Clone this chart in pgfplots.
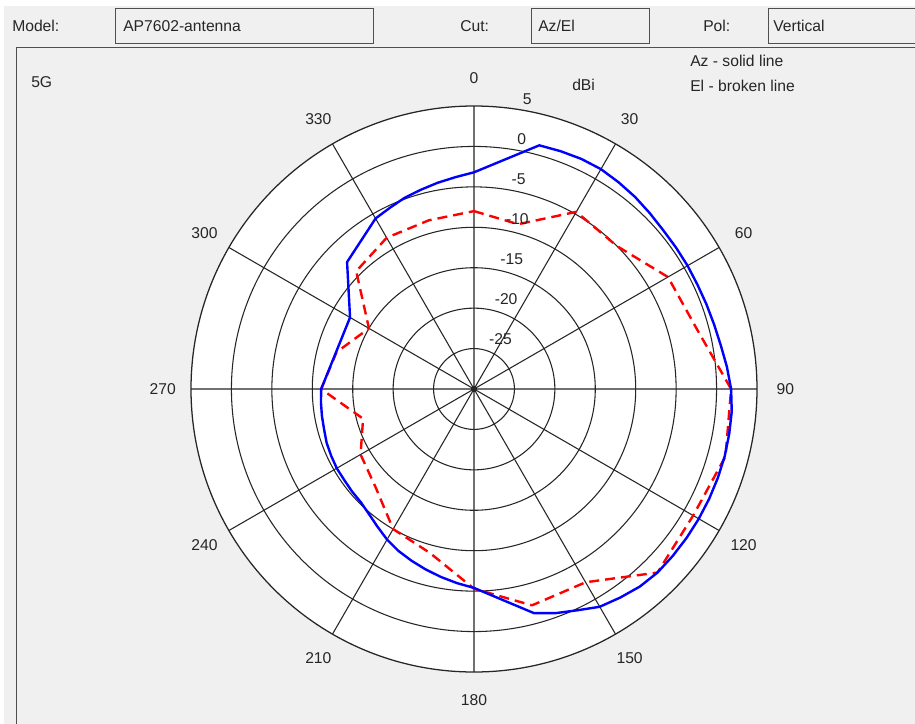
\documentclass[border=0pt]{standalone}
\usepackage{pgfplots}
\usepackage{pgfplotstable}
\pgfplotsset{compat=1.18}
\usepgfplotslibrary{polar}
\usepackage{fontspec}
\setmainfont{Liberation Sans}
\definecolor{bgc}{HTML}{F0F0F0}
\definecolor{boxc}{HTML}{505050}
\definecolor{txt}{HTML}{262626}
\definecolor{gridc}{HTML}{262626}

% compass angle (deg, clockwise from top), gain (dBi)
\pgfplotstableread{
ang db
0   -3.2
15  1.2
20  1.3
25  1.4
30  1.4
35  1.2
40  1.0
45  0.75
50  0.55
55  0.5
60  0.5
65  0.5
70  0.6
75  0.75
80  1.0
85  1.4
90  1.8
95  2.0
100 2.05
105 2.1
110 2.1
115 2.1
120 2.1
125 2.1
130 2.1
135 2.1
140 1.9
145 1.5
150 1.1
155 0.2
160 -0.5
165 -1.3
180 -5.4
185 -5.9
190 -6.4
195 -6.9
200 -7.4
205 -7.9
210 -8.5
215 -9.2
220 -9.8
225 -10.2
230 -10.3
235 -10.4
240 -10.4
245 -10.5
250 -10.6
255 -10.8
260 -10.9
265 -11.0
270 -11.1
300 -12.3
315 -7.8
330 -5.65
335 -5.3
340 -4.85
345 -4.5
350 -4.1
355 -3.7
360 -3.2
}\aztable

\pgfplotstableread{
ang db
0   -8.0
15  -8.9
30  -4.7
45  -5.0
60  -2.3
75  -1.45
90  1.8
105 2.2
120 1.3
135 2.1
150 -2.4
165 -2.3
180 -5.3
195 -9.0
210 -10.0
225 -12.8
240 -13.8
255 -15.8
270 -11.1
285 -12.4
300 -15.0
315 -9.4
330 -8.4
345 -8.4
360 -8.0
}\eltable

\begin{document}
\begin{tikzpicture}
\fontsize{11.75}{14}\selectfont
\begin{scope}[x=0.75pt,y=-0.75pt]
  \fill[white] (0,0) rectangle (915,724);
  \fill[bgc] (4,6) rectangle (915,724);
  \draw[boxc,line width=0.75pt] (115,9) rectangle (373,44);
  \draw[boxc,line width=0.75pt] (531,9) rectangle (649,44);
  \draw[boxc,line width=0.75pt] (915,9) -- (768,9) -- (768,44) -- (915,44);
  \draw[boxc,line width=0.75pt] (16,724) -- (16,48) -- (915,48);
  \begin{scope}[every node/.style={inner sep=0pt,anchor=base west,text=txt}]
  \node at (12,31.7) {Model:};
  \node at (123,31.7) {AP7602-antenna};
  \node at (460,31.7) {Cut:};
  \node at (538,31.7) {Az/El};
  \node at (703,31.7) {Pol:};
  \node at (773,31.7) {Vertical};
  \node at (31,87.3) {5G};
  \node at (690,66.7) {Az - solid line};
  \node at (690,91.2) {El - broken line};
  \node at (572,90.7) {dBi};
  \end{scope}
  \fill[white] (474,389) circle (283);
\end{scope}

\begin{polaraxis}[
  at={(355.5pt,-291.75pt)}, anchor=center,
  width=424.5pt, height=424.5pt, scale only axis,
  xmin=0, xmax=360, ymin=0, ymax=35,
  xtick={0,30,...,330}, ytick={5,10,...,30},
  xticklabels={}, yticklabels={},
  major tick length=0pt,
  grid=major,
  major grid style={draw=gridc, line width=0.8pt},
  axis line style={draw=gridc, line width=0.95pt},
  y axis line style={draw=none},
  clip=false,
]
\addplot[red, line width=1.8pt, dash pattern=on 7.5pt off 4.5pt, line join=round]
  table[x expr={90-\thisrow{ang}}, y expr={\thisrow{db}+30}] {\eltable};
\addplot[blue, line width=1.8pt, line join=round]
  table[x expr={90-\thisrow{ang}}, y expr={\thisrow{db}+30}] {\aztable};
% angular labels (compass)
\foreach \c in {0,30,...,330}{
  \edef\temp{\noexpand\node[inner sep=0pt,text=txt] at (axis cs:{90-\c},38.5) {\c};}
  \temp
}
% radial labels
\foreach \r/\l in {5/-25,10/-20,15/-15,20/-10,25/-5,30/0,35/5}{
  \edef\temp{\noexpand\node[inner sep=0pt,anchor=south west,xshift=6.75pt,yshift=1.5pt,text=txt] at (axis cs:82,{\r+0.25}) {\l};}
  \temp
}
\end{polaraxis}
\pgfresetboundingbox
\useasboundingbox (0,0) rectangle (686.25pt,-543pt);
\end{tikzpicture}
\end{document}
